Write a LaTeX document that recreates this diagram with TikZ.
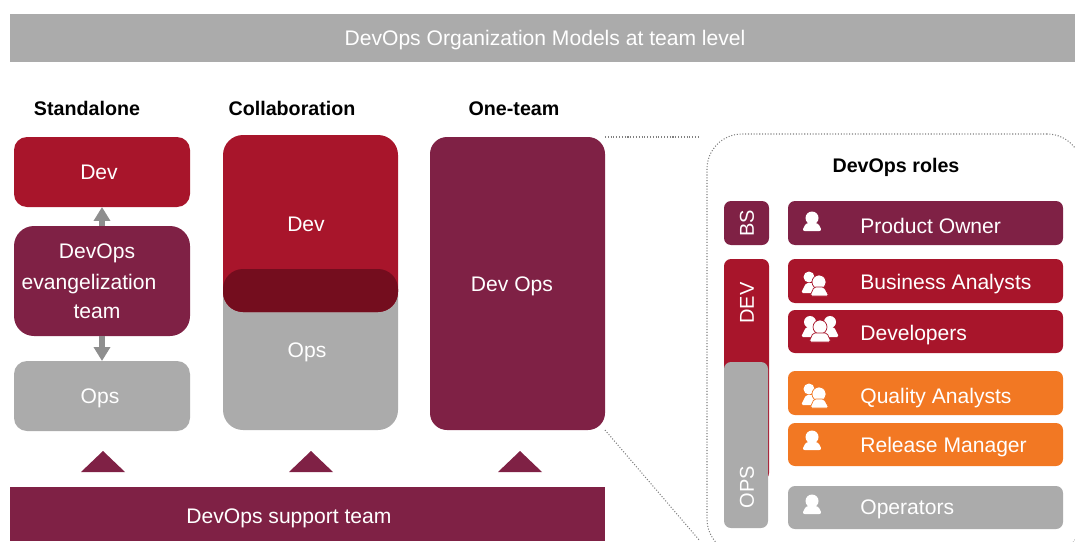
\documentclass[tikz,border=0pt]{standalone}
\usepackage{fontspec}
\setmainfont{Liberation Sans}
\usetikzlibrary{arrows.meta}
\definecolor{maroon}{HTML}{7F2145}
\definecolor{devred}{HTML}{A8152B}
\definecolor{opsgray}{HTML}{ABABAB}
\definecolor{darkred}{HTML}{740D1E}
\definecolor{qaorange}{HTML}{F27823}
\definecolor{arrowgray}{HTML}{8E8E8E}
\newcommand{\px}{.02cm}
\tikzset{
  box/.style 2 args = {anchor=north west, inner sep=0, outer sep=0, minimum width=#1*\px, minimum height=#2*\px},
  txt/.style = {anchor=base, inner sep=0, text=white, font=\fontsize{12}{14}\selectfont},
  head/.style = {anchor=base, inner sep=0, text=black, font=\fontsize{11.2}{13}\selectfont\bfseries},
  role/.style = {anchor=base west, inner sep=0, text=white, font=\fontsize{12}{14}\selectfont},
  side/.style = {anchor=center, inner sep=0, text=white, rotate=90, font=\fontsize{11.4}{13}\selectfont},
  link/.style = {arrowgray, line width=.12cm, -{Triangle[length=.28cm,width=.32cm]}},
  leader/.style = {gray, densely dotted, line width=.6pt},
  person/.pic = {
    \fill[white] (0,-8) circle (6.5);
    \fill[white, rounded corners=1.5pt] (-10,5) -- (-6,-3) -- (6,-3) -- (10,5) -- cycle;
  },
  pics/persontwo/.style = {code={
    \fill[white] (-6,-6) circle (5.5);
    \fill[white, rounded corners=1pt] (-14,10) -- (-9,0) -- (0,0) -- (4,10) -- cycle;
    \fill[white,draw=#1] (4,-1) circle (7);
    \fill[white,draw=#1, rounded corners=1pt] (-5,13) -- (-1,4) -- (9,4) -- (14,13) -- cycle;
  }},
  pics/personthree/.style = {code={
    \fill[white] (-10,-8) circle (6);
    \fill[white] (10,-8) circle (6);
    \fill[white, rounded corners=1pt] (-19,7) -- (-14,-3) -- (14,-3) -- (19,7) -- cycle;
    \fill[white,draw=#1] (0,-3) circle (7);
    \fill[white,draw=#1, rounded corners=1pt] (-11,12) -- (-7,3) -- (7,3) -- (11,12) -- cycle;
  }}
}
\begin{document}
\begin{tikzpicture}[x=.02cm, y=-.02cm]
\clip (0,0) rectangle (1075,541);
\useasboundingbox (0,0) rectangle (1075,541);

%title bar
\node[box={1065}{48}, fill=opsgray] (titlebar) at (10,14) {};
\node[txt] (titletxt) at (545,45) {DevOps Organization Models at team level};

\node[head] (standalone) at (87,115) {Standalone};
\node[head] (collab) at (292,115) {Collaboration};
\node[head] (oneteam) at (514,115) {One-team};

%standalone
\node[box={176}{70}, fill=devred, rounded corners=.26cm] (sdev) at (14,137) {};
\node[box={176}{110}, fill=maroon, rounded corners=.4cm] (seva) at (14,226) {};
\node[box={176}{70}, fill=opsgray, rounded corners=.26cm] (sops) at (14,361) {};
\draw[link] (seva) -- (sdev);
\draw[link] (seva) -- (sops);
\node[txt] (sdevtxt) at (99,179) {Dev};
\node[txt] (sevaa) at (97,258) {DevOps};
\node[txt] (sevab) at (89,289) {evangelization};
\node[txt] (sevac) at (97,318) {team};
\node[txt] (sopstxt) at (100,403) {Ops};

%collaboration
\node[box={175}{161}, fill=opsgray, rounded corners=.4cm] (cops) at (223,269) {};
\node[box={175}{177}, fill=devred, rounded corners=.4cm] (cdev) at (223,135) {};
\node[box={175}{43}, fill=darkred, rounded corners=.4cm] (cmix) at (223,269) {};
\node[txt] (cdevtxt) at (306,231) {Dev};
\node[txt] (copstxt) at (307,357) {Ops};

%one-team
\node[box={175}{293}, fill=maroon, rounded corners=.34cm] (odevops) at (430,137) {};
\node[txt] (odevopstxt) at (512,291) {Dev Ops};

%support team
\node[box={595}{54}, fill=maroon] (support) at (10,487) {};
\node[txt] (supporttxt) at (289,523) {DevOps support team};
\foreach \x in {103,311,520}
  \fill[maroon] (\x-22,472) -- (\x,451) -- (\x+22,472) -- cycle;

%roles panel
\node[box={375}{420}, draw=gray, densely dotted, line width=.6pt, rounded corners=.7cm] (panel) at (707,134) {};
\coordinate (leadtop) at (700,137);
\coordinate (leadbot) at (700,541);
\draw[leader] (odevops.north east) -- (leadtop);
\draw[leader] (odevops.south east) -- (leadbot);
\node[head] (rolestitle) at (896,172) {DevOps roles};

\node[box={45}{44}, fill=maroon, rounded corners=.14cm] (bs) at (724,201) {};
\node[box={45}{221}, fill=devred, rounded corners=.14cm] (dev) at (724,259) {};
\node[box={44}{166}, fill=opsgray, rounded corners=.14cm] (ops) at (724,362) {};
\node[side] (bstxt) at (747,223) {BS};
\node[side] (devtxt) at (747,303) {DEV};
\node[side] (opstxt) at (747,487) {OPS};

\node[box={275}{44}, fill=maroon, rounded corners=.14cm] (po) at (788,201) {};
\node[box={275}{44}, fill=devred, rounded corners=.14cm] (ba) at (788,259) {};
\node[box={275}{43}, fill=devred, rounded corners=.14cm] (devs) at (788,310) {};
\node[box={275}{44}, fill=qaorange, rounded corners=.14cm] (qa) at (788,371) {};
\node[box={275}{43}, fill=qaorange, rounded corners=.14cm] (rm) at (788,423) {};
\node[box={275}{43}, fill=opsgray, rounded corners=.14cm] (oper) at (788,486) {};

\node[role] (potxt) at (860,233) {Product Owner};
\node[role] (batxt) at (860,289) {Business Analysts};
\node[role] (devstxt) at (860,340) {Developers};
\node[role] (qatxt) at (860,403) {Quality Analysts};
\node[role] (rmtxt) at (860,452) {Release Manager};
\node[role] (opertxt) at (860,514) {Operators};

\pic at (812,226) {person};
\pic at (815,283) {persontwo=devred};
\pic at (820,330) {personthree=devred};
\pic at (815,395) {persontwo=qaorange};
\pic at (812,445) {person};
\pic at (812,509) {person};
\end{tikzpicture}
\end{document}
